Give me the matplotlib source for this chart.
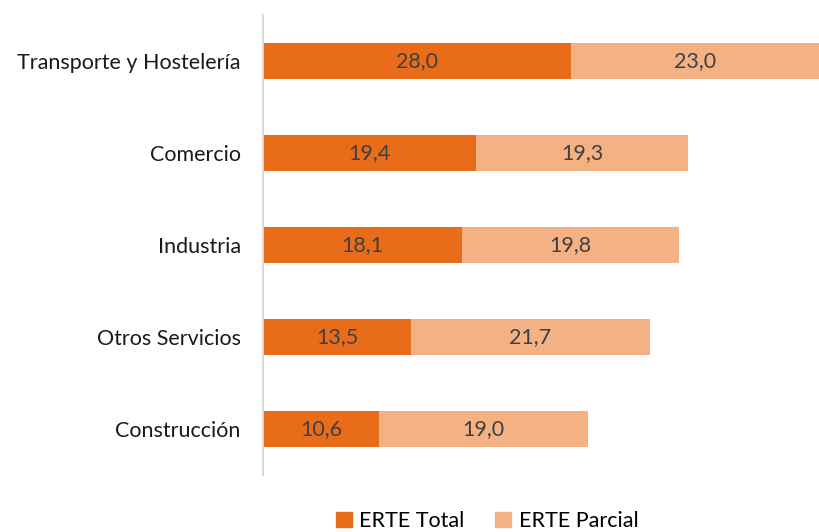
import matplotlib
matplotlib.use("Agg")
import matplotlib.pyplot as plt
from matplotlib.patches import Patch

categorias = ["Transporte y Hostelería", "Comercio", "Industria", "Otros Servicios", "Construcción"]
erte_total = [28.0, 19.4, 18.1, 13.5, 10.6]
erte_parcial = [23.0, 19.3, 19.8, 21.7, 19.0]

c_total = "#E96C1A"
c_parcial = "#F4B183"

plt.rcParams["font.family"] = ["Lato", "DejaVu Sans"]
fs = 15.5

fig = plt.figure(figsize=(8.2, 5.32), dpi=100)
ax = fig.add_axes([263 / 820, 1 - 475 / 532, 1 - 263 / 820, 460 / 532])

y = list(range(len(categorias)))[::-1]
ancho = 0.39
b1 = ax.barh(y, erte_total, height=ancho, color=c_total)
b2 = ax.barh(y, erte_parcial, left=erte_total, height=ancho, color=c_parcial)

for barras in (b1, b2):
    ax.bar_label(barras, labels=[f"{v:.1f}".replace(".", ",") for v in barras.datavalues],
                 label_type="center", color="#404040", fontsize=fs)

ax.set_xlim(0, 50.7)
ax.set_ylim(-0.5, len(categorias) - 0.5)
ax.set_yticks(y)
ax.set_yticklabels(categorias, fontsize=fs, color="#1a1a1a")
ax.tick_params(axis="y", length=0, pad=16)
ax.set_xticks([])
for s in ["top", "right", "bottom"]:
    ax.spines[s].set_visible(False)
ax.spines["left"].set_color("#D9D9D9")
ax.spines["left"].set_linewidth(1.5)

fig.legend(handles=[Patch(color=c_total, label="ERTE Total"), Patch(color=c_parcial, label="ERTE Parcial")],
           loc="center", bbox_to_anchor=(487 / 820, 1 - 521 / 532), ncol=2, frameon=False,
           fontsize=fs, handlelength=0.75, handleheight=0.75, handletextpad=0.35, columnspacing=1.4)

fig.savefig("out.png", dpi=100)
